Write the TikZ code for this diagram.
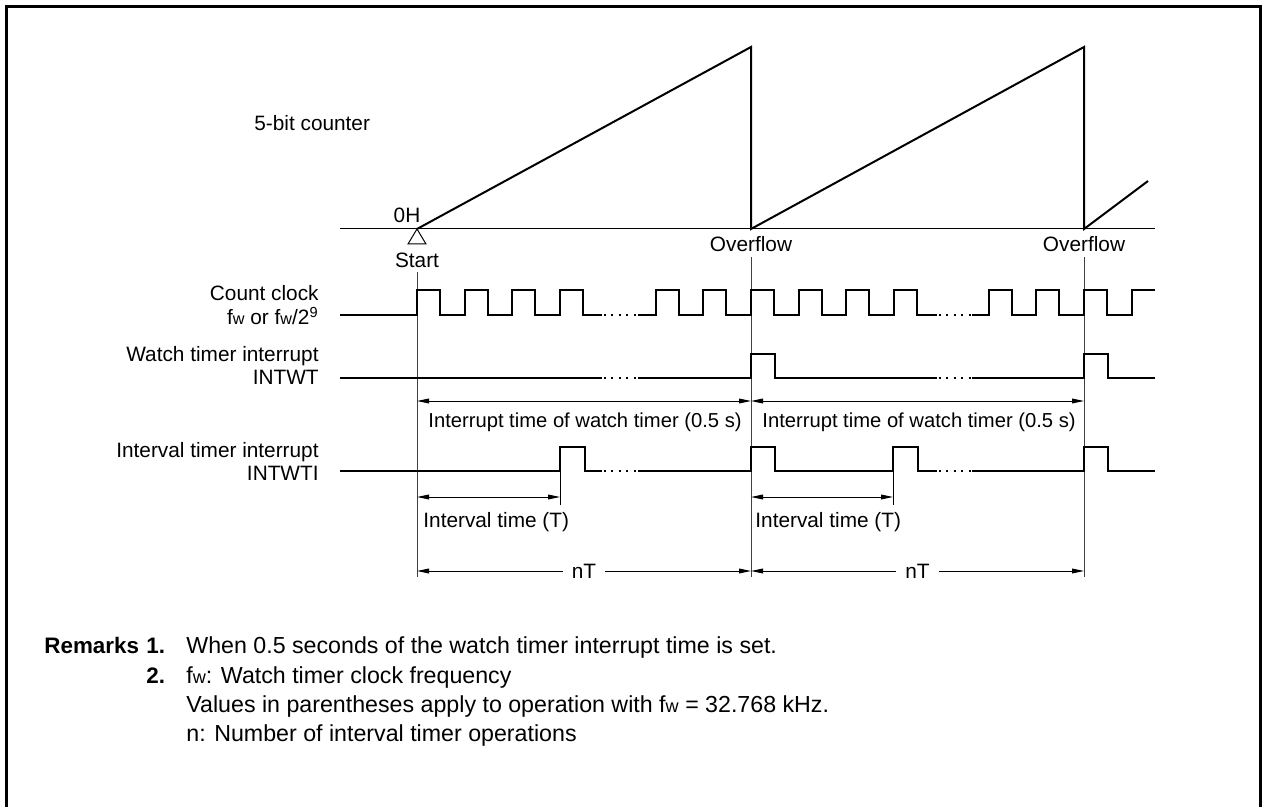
\documentclass[tikz,border=0pt]{standalone}
\usepackage{fontspec}
\usepackage{graphicx}
\setmainfont{Liberation Sans}
\usetikzlibrary{arrows.meta}
\newcommand\fwx{f\scalebox{0.78}{w}}
\begin{document}
\begin{tikzpicture}[x=0.5pt,y=-0.5pt,
  lbl/.style={font=\fontsize{10.4}{12}\selectfont, inner sep=0pt},
  lbls/.style={font=\fontsize{10.1}{12}\selectfont, inner sep=0pt},
  rem/.style={font=\fontsize{11.6}{14}\selectfont, inner sep=0pt, anchor=base west},
  remb/.style={font=\fontsize{11.2}{14}\selectfont\bfseries, inner sep=0pt, anchor=base west},
  wave/.style={line width=1pt, line join=miter},
  guide/.style={line width=0.5pt, black!75},
  ext/.style={line width=0.5pt},
  dim/.style={line width=0.5pt, {Triangle[length=6pt,width=2.4pt]}-{Triangle[length=6pt,width=2.4pt]}},
  dotsline/.style={line width=1.1pt, dash pattern=on 1.1pt off 2.65pt}]
\useasboundingbox (0,0) rectangle (1262,807);
% frame
\draw[line width=1.5pt] (6.5,807) -- (6.5,6.3) -- (1260.3,6.3) -- (1260.3,807);

% key coordinates
\coordinate (S) at (417,229);
\coordinate (O1) at (751,229);
\coordinate (O2) at (1084,229);

% counter
\draw[line width=0.5pt] (340,229) -- (1155,229);
\draw[wave] (S) -- (751,47) -- (O1) -- (1084,47) -- (O2) -- (1148,181);
\draw[line width=0.5pt, fill=white] (S) -- (426,244) -- (408,244) -- cycle;
\node[lbl, anchor=base west] (cnt) at (254,130.5) {5-bit counter};
\node[lbl, anchor=base] (zh) at (407,223) {0H};
\node[lbl, anchor=base] (st) at (417,268) {Start};
\node[lbl, anchor=base] (ov1) at (751,252) {Overflow};
\node[lbl, anchor=base] (ov2) at (1084,252) {Overflow};

% guides
\draw[guide] (417,272) -- (417,577);
\draw[guide] (751,257) -- (751,577);
\draw[guide] (1084,257) -- (1084,577);

% left labels
\node[lbl, anchor=base east] (cc1) at (319,300.5) {Count clock};
\node[lbl, anchor=base east] (cc2) at (319,325) {\fwx{} or \fwx/2\textsuperscript{9}};
\node[lbl, anchor=base east] (wt1) at (319,362) {Watch timer interrupt};
\node[lbl, anchor=base east] (wt2) at (319,385) {INTWT};
\node[lbl, anchor=base east] (it1) at (319,457) {Interval timer interrupt};
\node[lbl, anchor=base east] (it2) at (319,480) {INTWTI};

% count clock
\draw[wave] (340,315) -- (417,315) -- (417,290) -- (440,290) -- (440,315) -- (464.7,315) -- (464.7,290) -- (487.7,290) -- (487.7,315) -- (512.4,315) -- (512.4,290) -- (535.4,290) -- (535.4,315) -- (560.1,315) -- (560.1,290) -- (583.1,290) -- (583.1,315) -- (602,315);
\draw[dotsline] (603.5,315) -- (637,315);
\draw[wave] (638,315) -- (655.6,315) -- (655.6,290) -- (678.6,290) -- (678.6,315) -- (703.3,315) -- (703.3,290) -- (726.3,290) -- (726.3,315) -- (751,315) -- (751,290) -- (774,290) -- (774,315) -- (798.6,315) -- (798.6,290) -- (821.6,290) -- (821.6,315) -- (846.1,315) -- (846.1,290) -- (869.1,290) -- (869.1,315) -- (893.7,315) -- (893.7,290) -- (916.7,290) -- (916.7,315) -- (937,315);
\draw[dotsline] (938.5,315) -- (972,315);
\draw[wave] (972,315) -- (988.9,315) -- (988.9,290) -- (1011.9,290) -- (1011.9,315) -- (1036.4,315) -- (1036.4,290) -- (1059.4,290) -- (1059.4,315) -- (1084,315) -- (1084,290) -- (1107,290) -- (1107,315) -- (1131.6,315) -- (1131.6,290) -- (1155,290);

% INTWT
\draw[wave] (340,378) -- (602,378);
\draw[dotsline] (603.5,378) -- (637,378);
\draw[wave] (638,378) -- (751,378) -- (751,354) -- (775,354) -- (775,378) -- (937,378);
\draw[dotsline] (938.5,378) -- (972,378);
\draw[wave] (972,378) -- (1084,378) -- (1084,354) -- (1108,354) -- (1108,378) -- (1155,378);

% interrupt time dims
\coordinate (a1) at (417,401);
\coordinate (a2) at (751,401);
\coordinate (a3) at (1084,401);
\draw[dim] (a1) -- (a2);
\draw[dim] (a2) -- (a3);
\node[lbls, anchor=base] (wtt1) at (585,427) {Interrupt time of watch timer (0.5 s)};
\node[lbls, anchor=base] (wtt2) at (919,427) {Interrupt time of watch timer (0.5 s)};

% INTWTI
\draw[wave] (340,471) -- (560,471) -- (560,447) -- (585,447) -- (585,471) -- (602,471);
\draw[dotsline] (603.5,471) -- (637,471);
\draw[wave] (638,471) -- (751,471) -- (751,447) -- (775,447) -- (775,471) -- (893,471) -- (893,447) -- (918,447) -- (918,471) -- (937,471);
\draw[dotsline] (938.5,471) -- (972,471);
\draw[wave] (972,471) -- (1084,471) -- (1084,447) -- (1108,447) -- (1108,471) -- (1155,471);

% interval time dims
\draw[ext] (560,471) -- (560,505);
\draw[ext] (893,471) -- (893,505);
\coordinate (b1) at (417,497);
\coordinate (b2) at (560,497);
\coordinate (b3) at (751,497);
\coordinate (b4) at (893,497);
\draw[dim] (b1) -- (b2);
\draw[dim] (b3) -- (b4);
\node[lbl, anchor=base west] (iv1) at (423,527) {Interval time (T)};
\node[lbl, anchor=base west] (iv2) at (755,527) {Interval time (T)};

% nT dims
\coordinate (c1) at (417,571);
\coordinate (c2) at (751,571);
\coordinate (c3) at (1084,571);
\draw[dim] (c1) -- node[lbl, fill=white, inner xsep=4.5pt, inner ysep=1pt] (nt1) {nT} (c2);
\draw[dim] (c2) -- node[lbl, fill=white, inner xsep=4.5pt, inner ysep=1pt] (nt2) {nT} (c3);

% remarks
\node[remb] (rk) at (44,653) {Remarks};
\node[remb] (r1n) at (146,653) {1.};
\node[rem] (r1) at (186,653) {When 0.5 seconds of the watch timer interrupt time is set.};
\node[remb] (r2n) at (146,683) {2.};
\node[rem] (r2) at (186,683) {\fwx: Watch timer clock frequency};
\node[rem] (r3) at (186,712) {Values in parentheses apply to operation with \fwx{} = 32.768 kHz.};
\node[rem] (r4) at (186,741) {n: Number of interval timer operations};
\end{tikzpicture}
\end{document}
